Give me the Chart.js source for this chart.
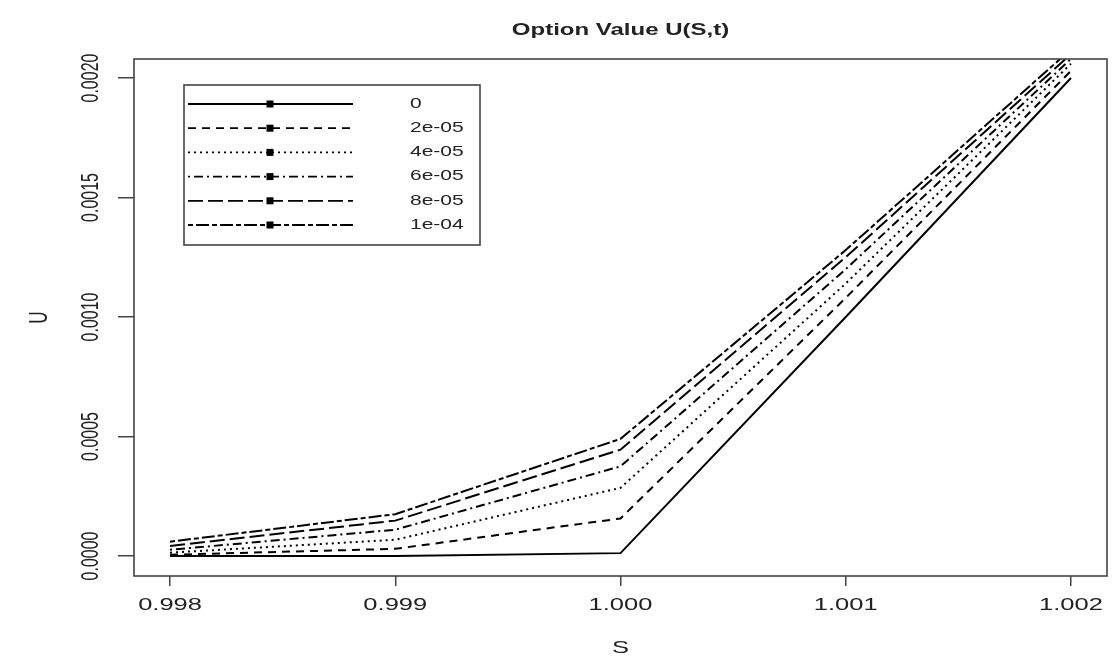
<!DOCTYPE html>
<html>
<head>
<meta charset="utf-8">
<script src="https://cdn.jsdelivr.net/npm/chart.js@4/dist/chart.umd.min.js"></script>
<style>
  html, body { margin: 0; padding: 0; background: #ffffff; }
  #wrap { width: 1114px; height: 660px; position: relative; }
</style>
</head>
<body>
<div id="wrap"><canvas id="c" width="1114" height="660"></canvas></div>
<script>
// ---- data ----
const S = [0.998, 0.999, 1.000, 1.001, 1.002];
const seriesNames = ["0", "2e-05", "4e-05", "6e-05", "8e-05", "1e-04"];
const U_0     = [0.000000, 0.000000, 0.000012, 0.001000, 0.002000];
const U_2e05  = [0.000005, 0.000030, 0.000157, 0.001080, 0.002030];
const U_4e05  = [0.000014, 0.000068, 0.000285, 0.001140, 0.002060];
const U_6e05  = [0.000026, 0.000110, 0.000375, 0.001200, 0.002080];
const U_8e05  = [0.000042, 0.000148, 0.000445, 0.001250, 0.002100];
const U_1e04  = [0.000060, 0.000175, 0.000490, 0.001280, 0.002120];
const xTicks = [0.998, 0.999, 1.000, 1.001, 1.002];
const xTickLabels = ["0.998", "0.999", "1.000", "1.001", "1.002"];
const yTicks = [0.0000, 0.0005, 0.0010, 0.0015, 0.0020];
const yTickLabels = ["0.0000", "0.0005", "0.0010", "0.0015", "0.0020"];
const titleText = "Option Value U(S,t)";
const xTitle = "S";
const yTitle = "U";

// ---- styles ----
const allSeries = [U_0, U_2e05, U_4e05, U_6e05, U_8e05, U_1e04];
const dashes = [[], [8, 6], [2, 4], [2, 4, 9, 4], [15, 5], [5, 3, 13, 3]];
const FONT = "'Liberation Sans', Arial, Helvetica, sans-serif";
const STRETCH = 1.5;
const TXT = '#222222';
const BOX = '#444444';

function drawText(ctx, text, x, y, font, align, rotate) {
  ctx.save();
  ctx.translate(x, y);
  if (rotate) {
    ctx.rotate(-Math.PI / 2);
    ctx.scale(1, STRETCH);
  } else {
    ctx.scale(STRETCH, 1);
  }
  ctx.font = font;
  ctx.fillStyle = TXT;
  ctx.textAlign = align || 'center';
  ctx.textBaseline = 'middle';
  ctx.fillText(text, 0, 0);
  ctx.restore();
}

const rPlot = {
  id: 'rPlot',
  afterDraw(chart) {
    const ctx = chart.ctx;
    const a = chart.chartArea;
    const xs = chart.scales.x, ys = chart.scales.y;
    // box
    ctx.save();
    ctx.strokeStyle = BOX;
    ctx.lineWidth = 1.6;
    ctx.strokeRect(a.left, a.top, a.right - a.left, a.bottom - a.top);
    ctx.restore();
    // tick labels
    xTicks.forEach((v, i) => {
      drawText(ctx, xTickLabels[i], xs.getPixelForValue(v), 605, "17px " + FONT, 'center', false);
    });
    yTicks.forEach((v, i) => {
      drawText(ctx, yTickLabels[i], 91, ys.getPixelForValue(v), "16px " + FONT, 'center', true);
    });
    // titles
    drawText(ctx, titleText, (a.left + a.right) / 2, 31, "bold 16px " + FONT, 'center', false);
    drawText(ctx, xTitle, (a.left + a.right) / 2, 648, "17px " + FONT, 'center', false);
    drawText(ctx, yTitle, 40, (a.top + a.bottom) / 2, "17px " + FONT, 'center', true);
    // legend
    const lx0 = 184, ly0 = 85, lx1 = 480, ly1 = 245;
    ctx.save();
    ctx.strokeStyle = BOX;
    ctx.lineWidth = 1.6;
    ctx.strokeRect(lx0, ly0, lx1 - lx0, ly1 - ly0);
    ctx.restore();
    chart.data.datasets.forEach((ds, i) => {
      const y = 104 + i * 24.2;
      ctx.save();
      ctx.strokeStyle = '#000';
      ctx.lineWidth = 1.8;
      ctx.setLineDash(ds.borderDash || []);
      ctx.beginPath();
      ctx.moveTo(188, y);
      ctx.lineTo(353, y);
      ctx.stroke();
      ctx.setLineDash([]);
      ctx.fillStyle = '#000';
      ctx.fillRect(270 - 3.5, y - 3.5, 7, 7);
      ctx.restore();
      drawText(ctx, ds.label, 410, y, "14px " + FONT, 'left', false);
    });
  }
};

const datasets = allSeries.map((arr, i) => ({
  label: seriesNames[i],
  data: S.map((s, k) => ({ x: s, y: arr[k] })),
  borderColor: '#000000',
  borderWidth: 2,
  borderDash: dashes[i],
  pointRadius: 0,
  fill: false,
  tension: 0
}));

new Chart(document.getElementById('c'), {
  type: 'line',
  data: { datasets },
  plugins: [rPlot],
  options: {
    responsive: false,
    animation: false,
    events: [],
    layout: { padding: { left: 0, top: 59, right: 7, bottom: 0 } },
    plugins: { legend: { display: false }, title: { display: false }, tooltip: { enabled: false } },
    scales: {
      x: {
        type: 'linear',
        min: 0.99784, max: 1.00216,
        afterBuildTicks: (s) => { s.ticks = xTicks.map(v => ({ value: v })); },
        afterFit: (s) => { s.height = 84; },
        ticks: { display: false },
        grid: { drawOnChartArea: false, drawTicks: true, tickLength: 10, color: BOX, lineWidth: 1.5 },
        border: { display: false }
      },
      y: {
        type: 'linear',
        min: -0.0000837, max: 0.0020795,
        afterBuildTicks: (s) => { s.ticks = yTicks.map(v => ({ value: v })); },
        afterFit: (s) => { s.width = 134; },
        ticks: { display: false },
        grid: { drawOnChartArea: false, drawTicks: true, tickLength: 16, color: BOX, lineWidth: 1.5 },
        border: { display: false }
      }
    }
  }
});
</script>
</body>
</html>
